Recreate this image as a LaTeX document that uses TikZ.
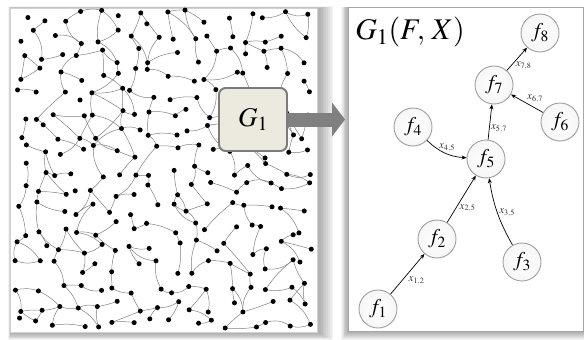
\documentclass[tikz,border=0pt]{standalone}
\usepackage{mathptmx}
\usetikzlibrary{arrows.meta}

\definecolor{boxfill}{HTML}{ECEADF}
\definecolor{boxline}{HTML}{7A7A7A}
\definecolor{arrowgray}{HTML}{808080}

\begin{document}
\begin{tikzpicture}[
    x=1pt, y=-1pt,
    link/.style={draw=black!50, line width=0.5pt},
    fnode/.style={circle, draw=gray!75, line width=0.9pt, inner color=white, outer color=gray!7,
                  minimum size=38pt, inner sep=0pt, font=\fontsize{21}{23}\selectfont},
    arc/.style={-{Stealth[length=5pt,width=4pt]}, line width=0.7pt, black},
    lbl/.style={font=\fontsize{11}{12}\selectfont, inner sep=1.5pt, text=black!80},
    g1box/.style={rectangle, rounded corners=7pt, draw=boxline, line width=1.8pt, fill=boxfill,
                  minimum width=68pt, minimum height=63pt, font=\fontsize{27}{30}\selectfont}
]
    \useasboundingbox (0,0) rectangle (584,340);

    % shadows under the two panels
    \foreach \k in {1,...,8}{
        \fill[black, opacity=0.045] (10.7-0.3*\k, 8-0.2*\k) rectangle (319+1.8*\k, 333+0.9*\k);
        \fill[black, opacity=0.045] (348-0.9*\k, 7) rectangle (584, 332+1.0*\k);
    }

    % panels
    \fill[white, draw=gray!35, line width=0.6pt] (10.7,8) rectangle (317,332);
    \fill[white, draw=gray!70, line width=0.6pt] (348,7) rectangle (583.5,331);

    % random network on the left
    \pgfmathsetseed{20}
    \foreach \i in {0,...,15}{
        \foreach \j in {0,...,16}{
            \pgfmathsetmacro\px{21+19*\i+7.5*rand}
            \pgfmathsetmacro\py{17+19.2*\j+7.5*rand}
            \coordinate (v-\i-\j) at (\px,\py);
        }
    }
    \foreach \i in {0,...,15}{
        \foreach \j in {0,...,16}{
            \pgfmathtruncatemacro\il{\i-1}
            \pgfmathtruncatemacro\ir{\i+1}
            \pgfmathtruncatemacro\ju{\j-1}
            \pgfmathrandominteger{\rv}{0}{99}
            \pgfmathrandominteger{\sv}{0}{99}
            \pgfmathsetmacro\bnd{26*rand}
            \ifnum\rv<40
                \ifnum\i>0 \draw[link] (v-\i-\j) to[bend left=\bnd] (v-\il-\j);\fi
            \else\ifnum\rv<80
                \ifnum\j>0 \draw[link] (v-\i-\j) to[bend left=\bnd] (v-\i-\ju);\fi
            \else\ifnum\rv<91
                \ifnum\j>0 \ifnum\i<15 \draw[link] (v-\i-\j) to[bend left=\bnd] (v-\ir-\ju);\fi\fi
            \fi\fi\fi
            % a few extra links close small loops
            \ifnum\sv<20
                \ifnum\j>0 \ifnum\i>0 \draw[link] (v-\i-\j) to[bend right=\bnd] (v-\il-\ju);\fi\fi
            \fi
        }
    }
    \foreach \i in {0,...,15}{
        \foreach \j in {0,...,16}{
            \fill (v-\i-\j) circle (2.5);
        }
    }

    % subgraph box and arrow
    \coordinate (tip) at (345,120);
    \node[g1box] (g1) at (253,119.5) {};
    \draw[line width=14pt, arrowgray, -{Triangle[length=13pt,width=34pt,line width=0pt]}]
        (g1.center) -- (g1.center -| tip);
    \node[g1box] at (g1) {$G_1$};

    % the subgraph itself
    \node[font=\fontsize{30}{32}\selectfont] (title) at (410,32) {$G_1(F,\,X)$};

    \node[fnode] (f1) at (378,309) {$f_1$};
    \node[fnode] (f2) at (437,239) {$f_2$};
    \node[fnode] (f3) at (522,262) {$f_3$};
    \node[fnode] (f4) at (413,127) {$f_4$};
    \node[fnode] (f5) at (486,159) {$f_5$};
    \node[fnode] (f6) at (560,122) {$f_6$};
    \node[fnode] (f7) at (494,85) {$f_7$};
    \node[fnode] (f8) at (540,33) {$f_8$};

    \draw[arc] (f1) -- node[lbl, pos=0.48, below right] {$x_{1,2}$} (f2);
    \draw[arc] (f2) -- node[lbl, pos=0.3, right=2pt] {$x_{2,5}$} (f5);
    \draw[arc] (f3) to[bend left=10] node[lbl, pos=0.5, right] {$x_{3,5}$} (f5);
    \draw[arc] (f4) to[bend right=20] node[lbl, pos=0.55, above] {$x_{4,5}$} (f5);
    \draw[arc] (f5) -- node[lbl, pos=0.3, right] {$x_{5,7}$} (f7);
    \draw[arc] (f6) -- node[lbl, pos=0.25, above=3pt] {$x_{6,7}$} (f7);
    \draw[arc] (f7) -- node[lbl, pos=0.2, right=3pt] {$x_{7,8}$} (f8);

\end{tikzpicture}
\end{document}
